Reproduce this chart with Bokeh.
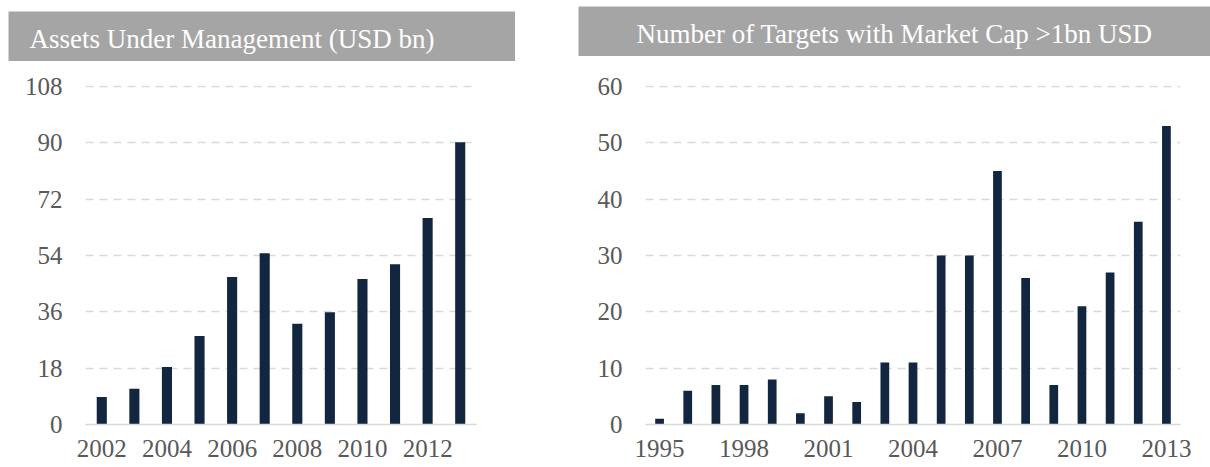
from bokeh.plotting import figure
from bokeh.models import Range1d, FixedTicker, Label, Spacer
from bokeh.layouts import row, column
from bokeh.embed import file_html
from bokeh.resources import INLINE

# ---- data ----
aum_years = [2002, 2003, 2004, 2005, 2006, 2007, 2008, 2009, 2010, 2011, 2012, 2013]
aum_values = [8.8, 11.4, 18.4, 28.3, 47.1, 54.7, 32.2, 35.9, 46.5, 51.2, 66.0, 90.2]
aum_xticks = [2002, 2004, 2006, 2008, 2010, 2012]
aum_yticks = [0, 18, 36, 54, 72, 90, 108]

tgt_years = [1995, 1996, 1997, 1998, 1999, 2000, 2001, 2002, 2003, 2004,
             2005, 2006, 2007, 2008, 2009, 2010, 2011, 2012, 2013]
tgt_values = [1, 6, 7, 7, 8, 2, 5, 4, 11, 11, 30, 30, 45, 26, 7, 21, 27, 36, 53]
tgt_xticks = [1995, 1998, 2001, 2004, 2007, 2010, 2013]
tgt_yticks = [0, 10, 20, 30, 40, 50, 60]

title_left = "Assets Under Management (USD bn)"
title_right = "Number of Targets with Market Cap >1bn USD"

FONT = "Liberation Serif"
BAR = "#13263F"
GRID = "#D9D9D9"
TICK = "#595959"
HEAD = "#A5A5A5"


def title_fig(w, h, text, align, xoff):
    f = figure(width=w, height=h, x_range=(0, 1), y_range=(0, 1),
               toolbar_location=None, output_backend="svg",
               x_axis_type=None, y_axis_type=None, min_border=0,
               min_border_left=0, min_border_right=0, min_border_top=0,
               min_border_bottom=0, frame_align=False,
               outline_line_color=None, background_fill_color=HEAD,
               border_fill_color=HEAD)
    f.grid.visible = False
    f.add_layout(Label(x=xoff, y=23, x_units="screen", y_units="screen",
                       text=text, text_align=align, text_baseline="middle",
                       text_color="#FFFFFF", text_font=FONT,
                       text_font_size="27px"))
    return f


def chart(years, values, xticks, yticks, fw, bl, br, bt):
    # frame is 339 px tall; the top tick sits 1 px below the frame edge so
    # its gridline is fully visible
    fh = 339
    top = yticks[-1] * fh / (fh - 1)
    p = figure(frame_width=fw, frame_height=fh,
               x_range=Range1d(years[0] - 0.5, years[-1] + 0.5),
               y_range=Range1d(yticks[0], top),
               toolbar_location=None, output_backend="svg",
               min_border_left=bl, min_border_right=br, min_border_top=bt,
               min_border_bottom=40, frame_align=False,
               outline_line_color=None)
    p.vbar(x=years, top=values, width=0.31, fill_color=BAR, line_color=None)
    p.xaxis.ticker = FixedTicker(ticks=xticks)
    p.yaxis.ticker = FixedTicker(ticks=yticks)
    p.xgrid.visible = False
    p.ygrid.grid_line_color = GRID
    p.ygrid.grid_line_dash = "8 6"
    p.ygrid.grid_line_width = 1.5
    for ax in (p.xaxis, p.yaxis):
        ax.major_tick_line_color = None
        ax.minor_tick_line_color = None
        ax.major_tick_out = 0
        ax.major_tick_in = 0
        ax.minor_tick_out = 0
        ax.minor_tick_in = 0
        ax.major_label_text_font = FONT
        ax.major_label_text_font_size = "25px"
        ax.major_label_text_color = TICK
    p.xaxis.axis_line_color = GRID
    p.xaxis.axis_line_width = 1.5
    p.yaxis.axis_line_color = None
    p.yaxis.major_label_standoff = 23
    p.xaxis.major_label_standoff = 15
    return p


left_title = title_fig(507, 50, title_left, "left", 21)
left_chart = chart(aum_years, aum_values, aum_xticks, aum_yticks, 391, 77, 102, 24)
right_title = title_fig(632, 50, title_right, "center", 316)
right_chart = chart(tgt_years, tgt_values, tgt_xticks, tgt_yticks, 535, 67, 30, 29)

layout = row(Spacer(width=8, height=10),
             column(Spacer(width=507, height=11), left_title, left_chart),
             column(Spacer(width=632, height=6), right_title, right_chart))

open("out.html", "w").write(file_html(layout, INLINE))
